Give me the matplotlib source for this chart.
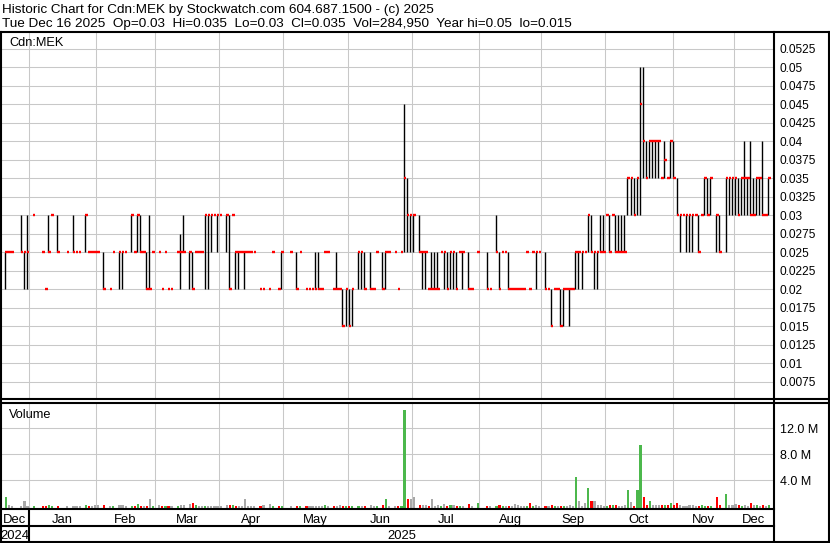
import numpy as np
import pandas as pd
import matplotlib
matplotlib.use("Agg")
import matplotlib.pyplot as plt
from matplotlib.transforms import blended_transform_factory

plt.rcParams["font.family"] = ["Liberation Sans", "DejaVu Sans"]

# ---- data (trading-day number, prices in $, volume in millions) ----
day = [0, 1, 2, 5, 6, 7, 9, 12, 13, 14,
       15, 17, 20, 22, 23, 24, 26, 27, 28, 29,
       30, 32, 34, 35, 37, 38, 39, 41, 42, 43,
       44, 45, 46, 47, 48, 50, 51, 52, 53, 54,
       56, 57, 58, 60, 61, 62, 63, 64, 65, 66,
       67, 68, 69, 70, 72, 73, 74, 75, 76, 77,
       78, 79, 80, 81, 83, 84, 86, 87, 89, 90,
       93, 95, 96, 98, 99, 100, 101, 102, 103, 104,
       105, 107, 108, 109, 110, 111, 112, 113, 115, 116,
       117, 119, 120, 121, 123, 124, 125, 127, 128, 129,
       130, 131, 132, 133, 135, 136, 137, 138, 139, 140,
       141, 142, 143, 144, 145, 146, 147, 148, 149, 151,
       152, 154, 157, 158, 160, 161, 162, 163, 164, 165,
       166, 167, 168, 169, 170, 171, 172, 173, 174, 176,
       177, 178, 179, 180, 181, 182, 183, 184, 185, 186,
       187, 188, 189, 190, 191, 192, 193, 194, 195, 196,
       197, 198, 199, 200, 201, 202, 203, 204, 205, 206,
       207, 208, 209, 210, 211, 212, 213, 214, 215, 216,
       217, 218, 219, 220, 221, 222, 223, 224, 225, 226,
       227, 228, 229, 230, 232, 233, 235, 236, 237, 238,
       239, 240, 241, 242, 243, 244, 245, 246, 247, 248,
       249]

low = [.02, .025, .025, .025, .02, .02, .03, .025, .02, .025,
       .03, .025, .025, .025, .025, .025, .025, .025, .025, .025,
       .025, .02, .02, .025, .02, .02, .025, .025, .025, .025,
       .025, .025, .02, .02, .025, .025, .02, .025, .02, .02,
       .025, .02, .025, .02, .02, .025, .025, .025, .02, .02,
       .025, .03, .025, .03, .025, .02, .03, .02, .02, .025,
       .02, .025, .025, .025, .02, .02, .02, .025, .02, .02,
       .025, .02, .025, .02, .02, .02, .02, .02, .02, .025,
       .025, .02, .02, .02, .015, .015, .015, .015, .02, .02,
       .02, .02, .02, .025, .02, .02, .025, .025, .02, .025,
       .025, .025, .025, .025, .025, .02, .02, .02, .02, .02,
       .02, .025, .02, .02, .02, .02, .02, .025, .02, .02,
       .02, .025, .02, .02, .025, .02, .025, .025, .02, .02,
       .02, .02, .02, .02, .025, .02, .025, .02, .025, .02,
       .02, .015, .02, .02, .015, .015, .02, .015, .02, .02,
       .02, .02, .025, .025, .025, .02, .02, .025, .025, .03,
       .025, .03, .025, .025, .025, .025, .03, .03, .03, .03,
       .03, .035, .035, .035, .035, .035, .035, .035, .035, .035,
       .035, .035, .03, .025, .03, .025, .025, .025, .03, .025,
       .03, .03, .03, .03, .025, .025, .025, .03, .03, .03,
       .03, .03, .03, .03, .03, .03, .03, .03, .03, .03,
       .03]

high = [.025, .025, .025, .03, .025, .03, .03, .025, .02, .03,
        .03, .03, .025, .03, .025, .025, .03, .025, .025, .025,
        .025, .025, .02, .025, .025, .025, .025, .03, .025, .03,
        .03, .025, .025, .03, .025, .025, .02, .025, .02, .02,
        .025, .0275, .03, .025, .025, .025, .025, .025, .03, .03,
        .03, .03, .03, .03, .03, .03, .03, .025, .025, .025,
        .025, .025, .025, .025, .02, .02, .02, .025, .02, .025,
        .025, .025, .025, .02, .02, .02, .025, .025, .02, .025,
        .025, .02, .025, .02, .02, .02, .02, .02, .025, .025,
        .025, .025, .02, .025, .025, .025, .025, .025, .02, .025,
        .045, .035, .03, .03, .03, .025, .025, .02, .025, .025,
        .025, .025, .025, .025, .025, .025, .025, .025, .025, .025,
        .02, .025, .025, .02, .03, .025, .025, .025, .025, .02,
        .02, .02, .02, .02, .025, .02, .025, .025, .025, .025,
        .02, .02, .02, .02, .02, .02, .02, .02, .02, .025,
        .025, .025, .025, .03, .03, .025, .025, .03, .03, .03,
        .03, .03, .03, .03, .03, .03, .035, .035, .035, .035,
        .05, .05, .04, .04, .04, .04, .04, .035, .04, .035,
        .04, .04, .035, .03, .03, .03, .03, .03, .03, .03,
        .03, .035, .035, .035, .03, .03, .035, .035, .035, .035,
        .035, .035, .04, .035, .04, .035, .035, .035, .04, .03,
        .035]

close = [.025, .025, .025, .025, .025, .025, .03, .025, .02, .025,
         .03, .025, .025, .025, .025, .025, .03, .025, .025, .025,
         .025, .02, .02, .025, .025, .025, .025, .03, .025, .03,
         .025, .025, .02, .02, .025, .025, .02, .025, .02, .02,
         .025, .025, .025, .025, .02, .025, .025, .025, .03, .03,
         .03, .03, .03, .03, .03, .02, .03, .025, .025, .025,
         .025, .025, .025, .025, .02, .02, .02, .025, .02, .025,
         .025, .02, .025, .02, .02, .02, .02, .02, .02, .025,
         .025, .02, .02, .02, .015, .02, .015, .02, .025, .025,
         .02, .02, .02, .025, .02, .025, .025, .025, .02, .025,
         .035, .03, .03, .03, .025, .025, .025, .02, .02, .02,
         .02, .025, .025, .02, .025, .025, .02, .025, .025, .02,
         .02, .025, .02, .02, .025, .02, .025, .025, .02, .02,
         .02, .02, .02, .02, .025, .02, .025, .025, .025, .02,
         .02, .015, .02, .02, .015, .02, .02, .02, .02, .025,
         .025, .025, .025, .03, .025, .025, .025, .025, .025, .03,
         .025, .03, .025, .025, .025, .025, .035, .035, .03, .035,
         .045, .04, .035, .04, .04, .04, .04, .035, .0375, .035,
         .04, .035, .03, .03, .03, .03, .03, .03, .03, .025,
         .03, .035, .03, .035, .03, .025, .035, .035, .035, .035,
         .03, .035, .035, .035, .03, .03, .035, .035, .03, .03,
         .035]

volume = [1.4, .3, .15, .15, .9, .15, .15, .15, .15, .3,
          .15, .15, .15, .15, .15, .15, .3, .15, .15, .3,
          .3, .3, .15, .15, .3, .3, .15, .15, .15, .45,
          .15, .15, .15, 1.1, .15, .3, .15, .15, .15, .15,
          .15, .3, .3, .45, .6, .3, .15, .15, .15, .15,
          .15, .15, .15, .15, .3, .3, .3, .15, .15, .15,
          1.2, .15, .15, .15, .15, .3, .45, .15, .15, .15,
          .15, .15, .15, .15, .15, .15, .15, .15, .15, .3,
          .15, .15, .15, .3, .15, .15, .15, .15, .15, .15,
          .15, .3, .15, .15, .3, 1.2, .15, .15, .15, .15,
          14.9, 1.2, 1.1, 1.4, .3, .3, .3, .15, 1.1, .15,
          .3, .15, .45, .15, .3, .3, .15, .15, .15, .45,
          .15, .6, .15, .15, .15, .3, .15, .15, .15, .15,
          .45, .3, .15, .15, .15, .5, .15, .25, .15, .15,
          .15, .25, .15, .15, .15, .15, .15, .3, .15, 4.5,
          .9, .15, .5, 2.8, .9, .8, .3, .3, .15, .15,
          .25, .25, .25, .15, .15, .3, 2.6, .75, .15, 2.6,
          9.4, 1.5, .25, .9, .3, .3, .25, .3, .25, .3,
          .6, .25, .5, .3, .15, .15, .25, .3, .15, .15,
          .25, .15, .15, .15, 1.4, .25, 1.85, .3, .3, .45,
          .25, .15, .3, .15, .6, .25, .3, .15, .3, .15,
          .285]

price_ticks = [0.0075, 0.01, 0.0125, 0.015, 0.0175, 0.02, 0.0225, 0.025, 0.0275, 0.03,
               0.0325, 0.035, 0.0375, 0.04, 0.0425, 0.045, 0.0475, 0.05, 0.0525]
vol_ticks = [4, 8, 12]
vol_labels = ["4.0 M", "8.0 M", "12.0 M"]

header1 = "Historic Chart for Cdn:MEK by Stockwatch.com 604.687.1500 - (c) 2025"
header2 = ("Tue Dec 16 2025  Op=0.03  Hi=0.035  Lo=0.03  Cl=0.035  Vol=284,950  "
           "Year hi=0.05  lo=0.015")

# TSX trading calendar for the period shown
holidays = ["2024-12-25", "2024-12-26", "2025-01-01", "2025-02-17", "2025-04-18",
            "2025-05-19", "2025-07-01", "2025-08-04", "2025-09-01", "2025-10-13"]
dates = pd.bdate_range("2024-12-18", "2025-12-16")
dates = dates[~dates.isin(pd.to_datetime(holidays))]

day = np.array(day)
low = np.array(low)
high = np.array(high)
close = np.array(close)
volume = np.array(volume)

W, H = 830, 543
fig = plt.figure(figsize=(W / 100, H / 100), dpi=100)
fig.patch.set_facecolor("white")


def box(x0, y0, x1, y1):
    return [x0 / W, 1 - y1 / H, (x1 - x0) / W, (y1 - y0) / H]


XMIN, XMAX = -1.40, 250.8
gc = "#c8c8c8"

# month boundaries
first = [i for i in range(len(dates)) if i == 0 or dates[i].month != dates[i - 1].month]
grid_x = [i - 0.3 for i in first[1:]]
bounds = [XMIN] + grid_x + [XMAX]
month_names = [dates[i].strftime("%b") for i in first]

# ---- price panel ----
ax = fig.add_axes(box(1, 31.5, 774, 399.5))
ax.set_xlim(XMIN, XMAX)
ax.set_ylim(0.00511, 0.05484)
for s in ax.spines.values():
    s.set_visible(False)
ax.set_xticks([])
ax.set_yticks(price_ticks)
ax.set_yticklabels([f"{v:.4f}".rstrip("0") for v in price_ticks])
ax.yaxis.tick_right()
ax.tick_params(axis="y", length=0, pad=3.8, labelsize=8.6)
ax.grid(axis="y", color=gc, lw=0.75)
ax.set_axisbelow(True)
for g in grid_x:
    ax.axvline(g, color=gc, lw=0.75, zorder=0)

rng = high > low
ax.vlines(day[rng], low[rng], high[rng], color="black", lw=1.0, zorder=2)
ax.hlines(close, day, day + 0.85, color="#ff0000", lw=1.7, zorder=3)
ax.text(8 / 773, 1 - 14 / 368, "Cdn:MEK", transform=ax.transAxes, fontsize=9.2,
        va="baseline", ha="left")

# ---- volume panel ----
prev = np.concatenate([[0.0], close[:-1]])
vol_colors = np.where(close > prev, "#4cb84c", np.where(close < prev, "#ff0000", "#a8a8a8"))

axv = fig.add_axes(box(1, 403, 774, 509))
axv.set_xlim(XMIN, XMAX)
axv.set_ylim(-0.385, 15.92)
for s in axv.spines.values():
    s.set_visible(False)
axv.set_xticks([])
axv.set_yticks(vol_ticks)
axv.set_yticklabels(vol_labels)
axv.yaxis.tick_right()
axv.tick_params(axis="y", length=0, pad=4.3, labelsize=9)
axv.grid(axis="y", color=gc, lw=0.75)
axv.set_axisbelow(True)
for g in grid_x:
    axv.axvline(g, color=gc, lw=0.75, zorder=0)
axv.bar(day - 0.1, volume + 0.385, bottom=-0.385, width=0.7, align="edge",
        color=vol_colors, linewidth=0, zorder=2)
axv.text(8 / 773, 1 - 15 / 106, "Volume", transform=axv.transAxes, fontsize=9.2,
         va="baseline", ha="left")

# ---- date rows ----
axm = fig.add_axes(box(1, 509, 774, 526))
axm.set_xlim(XMIN, XMAX)
axm.axis("off")
tm = blended_transform_factory(axm.transData, fig.transFigure)
for a, b, name in zip(bounds[:-1], bounds[1:], month_names):
    axm.text((a + b) / 2, 1 - 522.7 / H, name, transform=tm, ha="center",
             va="baseline", fontsize=9.4)
axm.text((bounds[0] + bounds[1]) / 2, 1 - 539.3 / H, "2024", transform=tm,
         ha="center", va="baseline", fontsize=9.4)
axm.text((bounds[1] + bounds[-1]) / 2, 1 - 539.3 / H, "2025", transform=tm,
         ha="center", va="baseline", fontsize=9.4)

# ---- frame lines ----
ov = fig.add_axes([0, 0, 1, 1], zorder=10)
ov.set_xlim(0, W)
ov.set_ylim(H, 0)
ov.axis("off")
lw = 1.5
segs = [((0.8, 31.5), (828.5, 31.5)), ((0.8, 31.5), (0.8, 541.5)),
        ((828.5, 31.5), (828.5, 541.5)), ((774, 31.5), (774, 541.5)),
        ((0.8, 399.3), (828.5, 399.3)), ((0.8, 402.8), (828.5, 402.8)),
        ((0.8, 509), (774, 509)), ((0.8, 526), (774, 526)),
        ((0.8, 541.5), (828.5, 541.5))]
for (xa, ya), (xb, yb) in segs:
    ov.plot([xa, xb], [ya, yb], color="black", lw=lw, solid_capstyle="projecting")
xd = ax.transData.transform((grid_x[0], 0))[0]
ov.plot([xd, xd], [509, 541.5], color="black", lw=lw)

fig.text(1.5 / W, 1 - 13.3 / H, header1, fontsize=9.7, va="baseline", ha="left")
fig.text(1.5 / W, 1 - 26.7 / H, header2, fontsize=9.7, va="baseline", ha="left")

fig.savefig("out.png", dpi=100, facecolor="white")
